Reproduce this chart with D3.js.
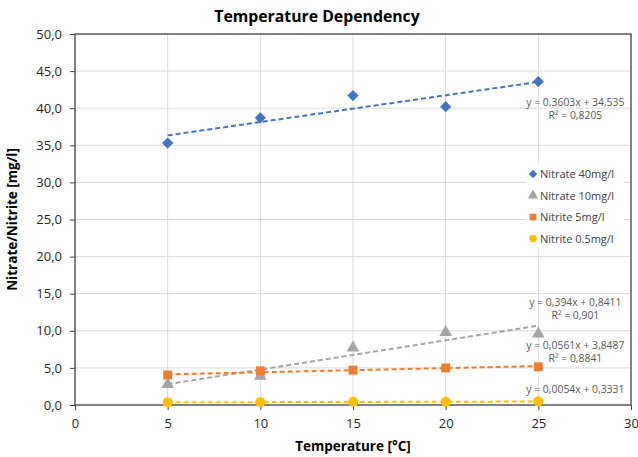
<!DOCTYPE html>
<html>
<head>
<meta charset="utf-8">
<script src="https://cdn.jsdelivr.net/npm/d3@7"></script>
<style>
  body { margin: 0; background: #fff; }
  text { font-family: "Open Sans", sans-serif; }
</style>
</head>
<body>
<div id="container"></div>
<script>
/* CONSTANTS AND GLOBALS */
const width = 638,
  height = 457

// data
const temps = [5, 10, 15, 20, 25]
const nitrate40 = [35.3, 38.7, 41.7, 40.2, 43.6]
const nitrate10 = [2.8, 3.9, 7.7, 9.8, 9.6]
const nitrite5 = [4.05, 4.6, 4.7, 5.0, 5.15]
const nitrite05 = [0.36, 0.38, 0.42, 0.43, 0.48]

const seriesNames = ["Nitrate 40mg/l", "Nitrate 10mg/l", "Nitrite 5mg/l", "Nitrite 0.5mg/l"]
const seriesColors = ["#4472C4", "#A5A5A5", "#ED7D31", "#FFC000"]
const seriesShapes = [d3.symbolDiamond2, d3.symbolTriangle, d3.symbolSquare, d3.symbolCircle]

// trendlines (slope, intercept) and their labels as printed
const trendSlope = [0.3603, 0.394, 0.0561, 0.0054]
const trendIntercept = [34.535, 0.8411, 3.8487, 0.3331]
const trendLabels = [
  ["y = 0,3603x + 34,535", "R² = 0,8205"],
  ["y = 0,394x + 0,8411", "R² = 0,901"],
  ["y = 0,0561x + 3,8487", "R² = 0,8841"],
  ["y = 0,0054x + 0,3331"]
]
// where each label sits, in data units (x, y of first baseline)
const trendLabelAt = [[27, 40.3], [27, 13.4], [27, 7.55], [27, 1.6]]

const xTicks = [0, 5, 10, 15, 20, 25, 30]
const yTicks = [0, 5, 10, 15, 20, 25, 30, 35, 40, 45, 50]

const title = "Temperature Dependency"
const xTitle = "Temperature [°C]"
const yTitle = "Nitrate/Nitrite [mg/l]"

const margin = { top: 34, right: 7, bottom: 52, left: 75 }

const series = [nitrate40, nitrate10, nitrite5, nitrite05].map((vals, i) => ({
  name: seriesNames[i],
  color: seriesColors[i],
  shape: seriesShapes[i],
  values: vals.map((v, j) => ({ x: temps[j], y: v })),
  slope: trendSlope[i],
  intercept: trendIntercept[i],
  label: trendLabels[i],
  labelAt: trendLabelAt[i]
}))

// SCALES
const x = d3.scaleLinear().domain([0, 30]).range([margin.left, width - margin.right])
const y = d3.scaleLinear().domain([0, 50]).range([height - margin.bottom, margin.top])

const svg = d3.select("#container")
  .append("svg")
  .attr("width", width)
  .attr("height", height)

// GRID
svg.append("g")
  .selectAll("line")
  .data(yTicks.slice(1, -1))
  .join("line")
  .attr("x1", x(0)).attr("x2", x(30))
  .attr("y1", d => y(d)).attr("y2", d => y(d))
  .attr("stroke", "#d9d9d9")

svg.append("g")
  .selectAll("line")
  .data(xTicks.slice(1, -1))
  .join("line")
  .attr("x1", d => x(d)).attr("x2", d => x(d))
  .attr("y1", y(0)).attr("y2", y(50))
  .attr("stroke", "#d9d9d9")

// AXES
const fmt = d => d3.format(".1f")(d).replace(".", ",")

svg.append("g")
  .attr("transform", `translate(${x(0)},0)`)
  .call(d3.axisLeft(y).tickValues(yTicks).tickFormat(fmt).tickSize(5).tickPadding(8))
  .call(g => g.select(".domain").remove())

svg.append("g")
  .attr("transform", `translate(0,${y(0)})`)
  .call(d3.axisBottom(x).tickValues(xTicks).tickSize(5).tickPadding(9))
  .call(g => g.select(".domain").remove())

svg.selectAll(".tick line").attr("stroke", "#404040")
svg.selectAll(".tick text")
  .attr("font-family", "Open Sans")
  .attr("font-size", 13)
  .attr("fill", "#262626")

// plot border
svg.append("rect")
  .attr("x", x(0)).attr("y", y(50))
  .attr("width", x(30) - x(0))
  .attr("height", y(0) - y(50))
  .attr("fill", "none")
  .attr("stroke", "#404040")
  .attr("stroke-width", 1.3)

// TRENDLINES
svg.append("g")
  .selectAll("line")
  .data(series)
  .join("line")
  .attr("x1", x(5)).attr("x2", x(25))
  .attr("y1", d => y(d.slope * 5 + d.intercept))
  .attr("y2", d => y(d.slope * 25 + d.intercept))
  .attr("stroke", d => d.color)
  .attr("stroke-width", 2)
  .attr("stroke-dasharray", "5,3")

// MARKERS
series.forEach(s => {
  svg.append("g")
    .selectAll("path")
    .data(s.values)
    .join("path")
    .attr("transform", d => `translate(${x(d.x)},${y(d.y)})`)
    .attr("d", d3.symbol().type(s.shape).size(s.shape === d3.symbolTriangle ? 70 : 80))
    .attr("fill", s.color)
})

// TRENDLINE LABELS
series.forEach(s => {
  svg.append("text")
    .attr("x", x(s.labelAt[0]))
    .attr("y", y(s.labelAt[1]))
    .attr("text-anchor", "middle")
    .attr("font-size", 10.4)
    .attr("fill", "#595959")
    .selectAll("tspan")
    .data(s.label)
    .join("tspan")
    .attr("x", x(s.labelAt[0]))
    .attr("dy", (d, i) => i === 0 ? 0 : 13.5)
    .text(d => d)
})

// LEGEND
const legend = svg.append("g").attr("transform", "translate(526,163)")
legend.append("rect")
  .attr("width", 98).attr("height", 86)
  .attr("fill", "#fff")

const row = legend.selectAll("g")
  .data(series)
  .join("g")
  .attr("transform", (d, i) => `translate(0,${11 + i * 21.5})`)

row.append("path")
  .attr("transform", "translate(7,0)")
  .attr("d", d => d3.symbol().type(d.shape).size(45)())
  .attr("fill", d => d.color)

row.append("text")
  .attr("x", 14)
  .attr("y", 4)
  .attr("font-size", 11)
  .attr("fill", "#404040")
  .text(d => d.name)

// TITLES
svg.append("text")
  .attr("x", 317).attr("y", 22)
  .attr("text-anchor", "middle")
  .attr("font-size", 15.8)
  .attr("font-weight", "bold")
  .attr("fill", "#000")
  .text(title)

svg.append("text")
  .attr("x", x(15)).attr("y", 451)
  .attr("text-anchor", "middle")
  .attr("font-size", 13.5)
  .attr("font-weight", "bold")
  .attr("fill", "#000")
  .text(xTitle)

svg.append("text")
  .attr("transform", `translate(17,${(y(0) + y(50)) / 2}) rotate(-90)`)
  .attr("text-anchor", "middle")
  .attr("font-size", 13.5)
  .attr("font-weight", "bold")
  .attr("fill", "#000")
  .text(yTitle)
</script>
</body>
</html>
